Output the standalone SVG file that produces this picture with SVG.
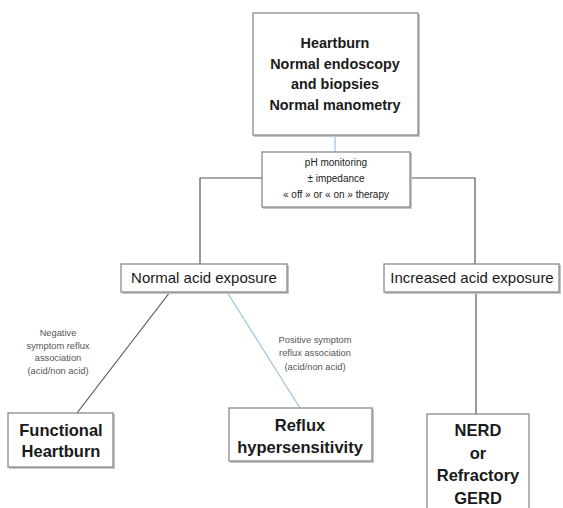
<svg xmlns="http://www.w3.org/2000/svg" width="563" height="508" viewBox="0 0 563 508">
<defs>
<style>
.box{fill:#fff;stroke:#8a8a8a;stroke-width:1.3}
.sh{fill:none;stroke:#c4c4c4;stroke-width:2}
.t{font-family:"Liberation Sans",Arial,sans-serif;fill:#1a1a1a;text-anchor:middle}
.b{font-weight:bold}
.s{font-family:"Liberation Sans",Arial,sans-serif;fill:#555;text-anchor:middle;font-size:9.3px}
.ln{fill:none;stroke:#555;stroke-width:1.2}
.bl{fill:none;stroke:#9cc2e0;stroke-width:1.2}
</style>
</defs>
<rect width="563" height="508" fill="#fff"/>
<g id="connectors">
<line class="bl" x1="335" y1="135" x2="335" y2="152"/>
<polyline class="ln" points="262,178 200,178 200,264"/>
<polyline class="ln" points="410,178 475,178 475,264"/>
<line class="ln" x1="170" y1="292" x2="77" y2="413"/>
<line class="bl" x1="227" y1="292" x2="300" y2="408"/>
<line class="ln" x1="476" y1="292" x2="476" y2="414"/>
</g>
<g id="top">
<polyline class="sh" points="254,136 419,136 419,14"/>
<rect class="box" x="253" y="13" width="165" height="122"/>
<text class="t b" font-size="14.4" x="335" y="48">Heartburn</text>
<text class="t b" font-size="14.4" x="335" y="69">Normal endoscopy</text>
<text class="t b" font-size="14.4" x="335" y="89">and biopsies</text>
<text class="t b" font-size="14.4" x="335" y="110">Normal manometry</text>
</g>
<g id="ph">
<polyline class="sh" points="263,208 411,208 411,153"/>
<rect class="box" x="262" y="152" width="148" height="55"/>
<text class="t" font-size="10" x="336" y="166">pH monitoring</text>
<text class="t" font-size="10" x="336" y="182">± impedance</text>
<text class="t" font-size="10" x="336" y="198">« off » or « on »  therapy</text>
</g>
<g id="normal">
<polyline class="sh" points="122,293 288,293 288,265"/>
<rect class="box" x="121" y="264" width="166" height="28"/>
<text class="t" font-size="15" x="204" y="283">Normal acid exposure</text>
</g>
<g id="increased">
<polyline class="sh" points="385,293 560,293 560,265"/>
<rect class="box" x="384" y="264" width="175" height="28"/>
<text class="t" font-size="15" x="472" y="283">Increased acid exposure</text>
</g>
<g id="neg-label">
<text class="s" x="58" y="336">Negative</text>
<text class="s" x="58" y="349">symptom reflux</text>
<text class="s" x="58" y="361">association</text>
<text class="s" x="58" y="374">(acid/non acid)</text>
</g>
<g id="pos-label">
<text class="s" x="315" y="343">Positive symptom</text>
<text class="s" x="315" y="356">reflux association</text>
<text class="s" x="315" y="370">(acid/non acid)</text>
</g>
<g id="functional">
<polyline class="sh" points="9,468 114,468 114,414"/>
<rect class="box" x="8" y="413" width="105" height="54"/>
<text class="t b" font-size="16.5" x="61" y="436">Functional</text>
<text class="t b" font-size="16.5" x="61" y="457">Heartburn</text>
</g>
<g id="reflux">
<polyline class="sh" points="230,462 373,462 373,409"/>
<rect class="box" x="229" y="408" width="143" height="53"/>
<text class="t b" font-size="16.5" x="300" y="431">Reflux</text>
<text class="t b" font-size="16.5" x="300" y="453">hypersensitivity</text>
</g>
<g id="nerd">
<rect class="box" x="427" y="414" width="102" height="100"/>
<text class="t b" font-size="16.5" x="478" y="436">NERD</text>
<text class="t b" font-size="16.5" x="478" y="459">or</text>
<text class="t b" font-size="16.5" x="478" y="481">Refractory</text>
<text class="t b" font-size="16.5" x="478" y="504">GERD</text>
</g>
</svg>
